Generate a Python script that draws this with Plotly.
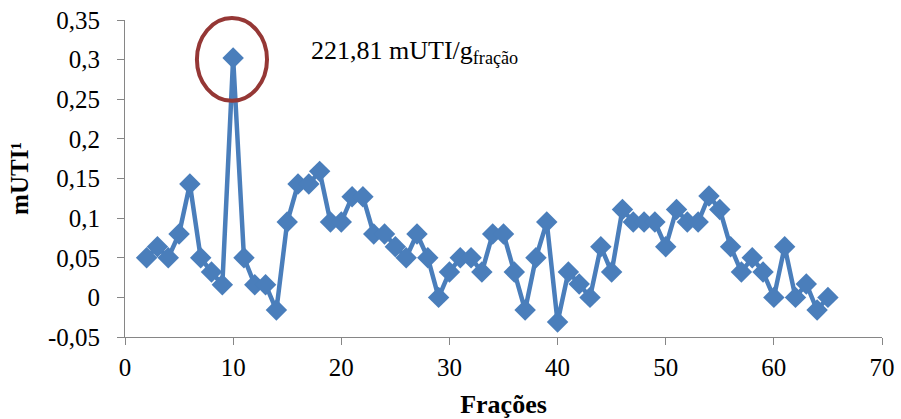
import plotly.graph_objects as go

fracoes = list(range(2, 66))
mUTI = [0.050, 0.064, 0.050, 0.080, 0.143, 0.050, 0.032, 0.016, 0.302, 0.050,
        0.016, 0.016, -0.016, 0.095, 0.143, 0.143, 0.159, 0.095, 0.095, 0.127,
        0.127, 0.080, 0.080, 0.064, 0.050, 0.080, 0.050, 0.000, 0.032, 0.050,
        0.050, 0.032, 0.080, 0.080, 0.032, -0.016, 0.050, 0.095, -0.031, 0.032,
        0.017, 0.000, 0.064, 0.032, 0.111, 0.095, 0.095, 0.095, 0.064, 0.111,
        0.095, 0.095, 0.128, 0.111, 0.064, 0.032, 0.050, 0.032, 0.000, 0.064,
        0.000, 0.017, -0.016, 0.000]

y_ticks = [-0.05, 0, 0.05, 0.1, 0.15, 0.2, 0.25, 0.3, 0.35]
y_ticktext = ["-0,05", "0", "0,05", "0,1", "0,15", "0,2", "0,25", "0,3", "0,35"]
x_ticks = [0, 10, 20, 30, 40, 50, 60, 70]

FF = "Liberation Serif, serif"
tick_font = dict(family=FF, size=25, color="#000000")

fig = go.Figure()
fig.add_trace(go.Scatter(
    x=fracoes, y=mUTI, mode="lines+markers",
    line=dict(color="#4A7EBB", width=4.5),
    marker=dict(symbol="diamond", size=16.5, color="#4A7EBB"),
    showlegend=False,
))

fig.update_layout(
    width=901, height=419,
    margin=dict(l=125, r=19, t=20, b=82, autoexpand=False),
    paper_bgcolor="white", plot_bgcolor="white",
    font=dict(family=FF, size=25, color="#000000"),
    xaxis=dict(range=[0, 70], tickvals=x_ticks, automargin=False,
               showgrid=False, zeroline=False, showline=True, linecolor="#868686", linewidth=1,
               ticks="outside", ticklen=7, tickcolor="#868686", tickfont=tick_font,
               ticklabelstandoff=1,
               title=dict(text="<b>Frações</b>", font=dict(family=FF, size=26, color="#000"), standoff=14)),
    yaxis=dict(range=[-0.05, 0.35], tickvals=y_ticks, ticktext=y_ticktext, automargin=False,
               showgrid=False, zeroline=False, showline=True, linecolor="#868686", linewidth=1,
               ticks="outside", ticklen=7, tickcolor="#868686", tickfont=tick_font,
               ticklabelstandoff=12,
               title=dict(text="<b>mUTI¹</b>", font=dict(family=FF, size=25, color="#000"), standoff=12)),
    shapes=[dict(type="circle", xref="paper", yref="paper",
                 x0=0.095, x1=0.1876, y0=0.745, y1=1.006,
                 line=dict(color="#953735", width=4))],
    annotations=[dict(x=17.0, y=0.31, xref="x", yref="y", xanchor="left", yanchor="middle",
                      text="221,81 mUTI/g<sub>fração</sub>", showarrow=False,
                      font=dict(family=FF, size=26, color="#000"))],
)

fig.write_html("out.html")
